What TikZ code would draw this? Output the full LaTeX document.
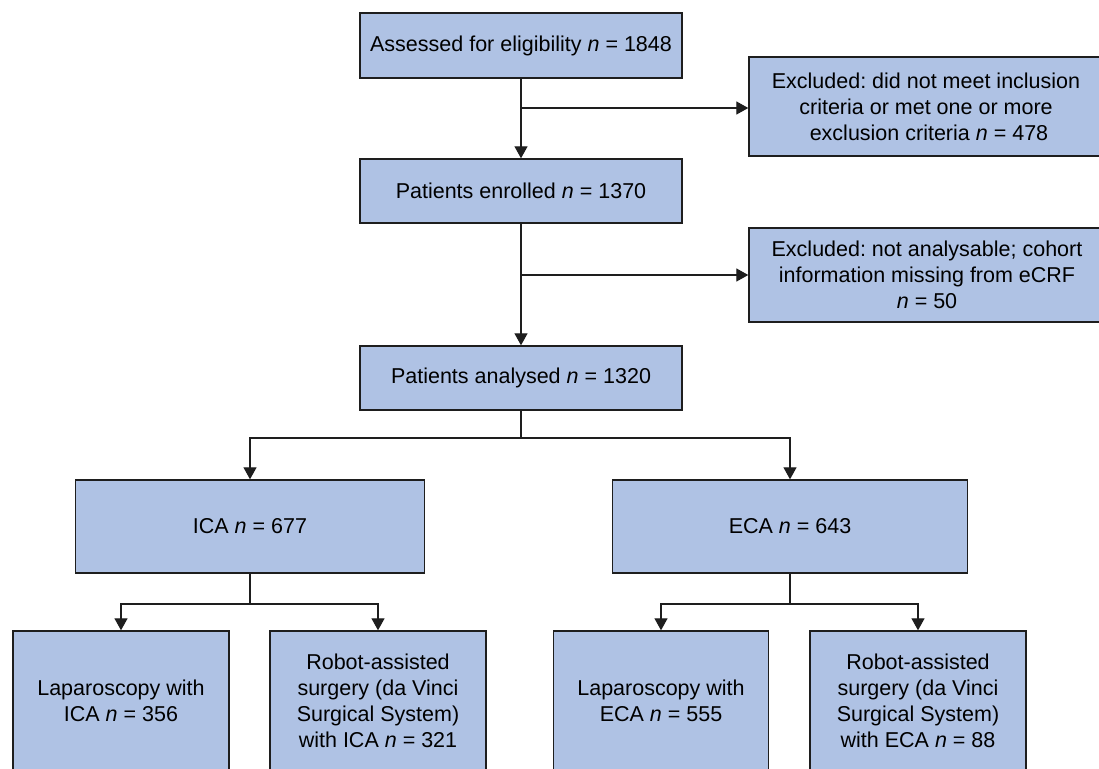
\documentclass[tikz,border=0pt]{standalone}
\usepackage{fontspec}
\setmainfont{Liberation Sans}
\usetikzlibrary{arrows.meta}
\definecolor{boxblue}{RGB}{175,194,228}
\definecolor{lineclr}{RGB}{30,30,30}
\frenchspacing
\begin{document}
\begin{tikzpicture}[x=1pt,y=-1pt,
  box/.style={draw=lineclr, line width=1.4pt, fill=boxblue, inner sep=0pt,
    align=center, font=\fontsize{21.5}{26}\selectfont, rectangle},
  conn/.style={draw=lineclr, line width=1.3pt},
  arr/.style={conn, -{Triangle[width=13pt,length=12pt]}}]
\useasboundingbox (0,0) rectangle (1099,768);
\clip (0,0) rectangle (1099,768);
\fill[white] (0,0) rectangle (1099,768);

\node[box, minimum width=322pt, minimum height=65pt] (b1) at (521,45.5)
  {Assessed for eligibility \textit{n} = 1848};
\node[box, minimum width=322pt, minimum height=64pt] (b2) at (521,191)
  {Patients enrolled \textit{n} = 1370};
\node[box, minimum width=322pt, minimum height=64pt] (b3) at (521,378)
  {Patients analysed \textit{n} = 1320};
\node[box, minimum width=354pt, minimum height=99pt] (e1) at (926,106.5)
  {Excluded: did not meet inclusion\\criteria or met one or more\\ \ exclusion criteria \textit{n} = 478};
\node[box, minimum width=356pt, minimum height=94pt] (e2) at (927,275)
  {Excluded: not analysable; cohort\\information missing from eCRF\\\textit{n} = 50};
\node[box, minimum width=349pt, minimum height=93pt] (ica) at (250,526.5)
  {ICA \textit{n} = 677};
\node[box, minimum width=355pt, minimum height=93pt] (eca) at (790,526.5)
  {ECA \textit{n} = 643};
\node[box, minimum width=216pt, minimum height=140pt] (l1) at (121,701)
  {Laparoscopy with\\ICA \textit{n} = 356};
\node[box, minimum width=216pt, minimum height=140pt] (r1) at (378,701)
  {Robot-assisted\\surgery (da Vinci\\Surgical System)\\with ICA \textit{n} = 321};
\node[box, minimum width=215pt, minimum height=140pt] (l2) at (661,701)
  {Laparoscopy with\\ECA \textit{n} = 555};
\node[box, minimum width=216pt, minimum height=140pt] (r2) at (918,701)
  {Robot-assisted\\surgery (da Vinci\\Surgical System)\\with ECA \textit{n} = 88};

\coordinate (j1) at (521,108);
\coordinate (j2) at (521,275);
\coordinate (j3) at (521,438);
\coordinate (j4) at (250,604);
\coordinate (j5) at (790,604);

\draw[arr] (b1.south) -- (b2.north);
\draw[arr] (j1) -- (j1 -| e1.west);
\draw[arr] (b2.south) -- (b3.north);
\draw[arr] (j2) -- (j2 -| e2.west);
\draw[conn] (b3.south) -- (j3);
\draw[arr] (j3) -| (ica.north);
\draw[arr] (j3) -| (eca.north);
\draw[conn] (ica.south) -- (j4);
\draw[arr] (j4) -| (l1.north);
\draw[arr] (j4) -| (r1.north);
\draw[conn] (eca.south) -- (j5);
\draw[arr] (j5) -| (l2.north);
\draw[arr] (j5) -| (r2.north);
\end{tikzpicture}
\end{document}
